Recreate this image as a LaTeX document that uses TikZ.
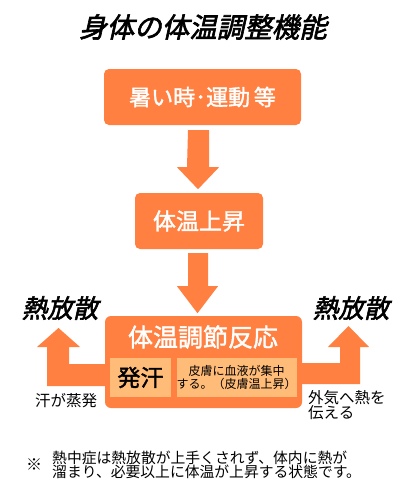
\documentclass[tikz,border=0pt]{standalone}
\usepackage{fontspec}
\usetikzlibrary{calc,backgrounds}
\setmainfont{Noto Sans CJK JP}
\newfontfamily\jpsl[FakeSlant=0.22,FakeBold=2.2]{Noto Sans CJK JP}
\newfontfamily\jpbold[FakeBold=1.6]{Noto Sans CJK JP}
\definecolor{orng}{RGB}{255,128,64}
\definecolor{lorng}{RGB}{255,187,120}
\newcommand{\fsz}[2]{\fontsize{#1}{#2}\selectfont}
\begin{document}
\begin{tikzpicture}[x=1pt,y=-1pt,
  box/.style={fill=orng,rounded corners=5pt,draw=none,inner sep=0pt,text=white,font=\jpbold\fsz{22}{22}},
  ibox/.style={fill=lorng,draw=none,inner sep=0pt},
  barrow/.style={fill=orng,draw=none},
  lbl/.style={inner sep=0pt,text=black}]
\begin{pgfonlayer}{background}
\fill[white] (0,0) rectangle (411,501);
\end{pgfonlayer}
\useasboundingbox (0,0) rectangle (411,501);
% title
\node[lbl,font=\jpsl\fsz{27.5}{28}] (title) at (203,27) {身体の体温調整機能};
% boxes
\node[box,minimum width=197,minimum height=56] (b1) at (202.5,97) {暑い時･運動\,等};
\node[box,minimum width=128,minimum height=56,font=\jpbold\fsz{23}{23}] (b2) at (199,221) {体温上昇};
\node[box,minimum width=197,minimum height=92,rounded corners=6pt] (b3) at (203.5,362) {};
% arrows
\fill[barrow] ($(b1.south)+(-14.5,5)$) -- ++(21,0) -- ++(0,37) -- ++(10,0) -- ++(-21,22) -- ++(-21,-22) -- ++(10,0) -- cycle;
\fill[barrow] ($(b2.south)+(-11,4)$) -- ++(20,0) -- ++(0,33) -- ++(10,0) -- ++(-20.5,27) -- ++(-20.5,-27) -- ++(11,0) -- cycle;
\begin{pgfonlayer}{background}
\fill[barrow] ($(b3.west)+(5,2)$) -- (69,364) -- (69,347) -- (80,347) -- (58.5,328) -- (37,347) -- (47,347) -- (47,386) -- ($(b3.west)+(5,24)$) -- cycle;
\fill[barrow] ($(b3.east)+(-5,1)$) -- (340,363) -- (340,347) -- (328,347) -- (348.5,326) -- (369,347) -- (360,347) -- (360,384) -- ($(b3.east)+(-5,22)$) -- cycle;
\end{pgfonlayer}
\node[lbl,text=white,font=\jpbold\fsz{25}{25}] (b3t) at (203,337) {体温調節反応};
\node[ibox,minimum width=61,minimum height=39,font=\jpbold\fsz{23}{23}] (i1) at (140.5,377.5) {発汗};
\node[ibox,minimum width=119,minimum height=39,align=center,font=\fsz{12}{12.5}] (i2) at (236.5,377.5) {皮膚に血液が集中\\する。（皮膚温上昇）};
% side labels
\node[lbl,font=\jpsl\fsz{25.5}{26}] (hl) at (60,308) {熱放散};
\node[lbl,font=\jpsl\fsz{25.5}{26}] (hr) at (351,308) {熱放散};
\node[lbl,font=\fsz{15.5}{16}] (sw) at (66,401) {汗が蒸発};
\node[lbl,align=left,anchor=north west,font=\fsz{15.5}{15}] (ot) at (308,390) {外気へ熱を\\伝える};
% footnote
\node[lbl,font=\fsz{16}{16}] (kome) at (34,465) {※};
\node[lbl,anchor=west,align=left,font=\fsz{14.8}{14.5}] (fn) at (52,465) {熱中症は熱放散が上手くされず、体内に熱が\\溜まり、必要以上に体温が上昇する状態です。};
\end{tikzpicture}
\end{document}
